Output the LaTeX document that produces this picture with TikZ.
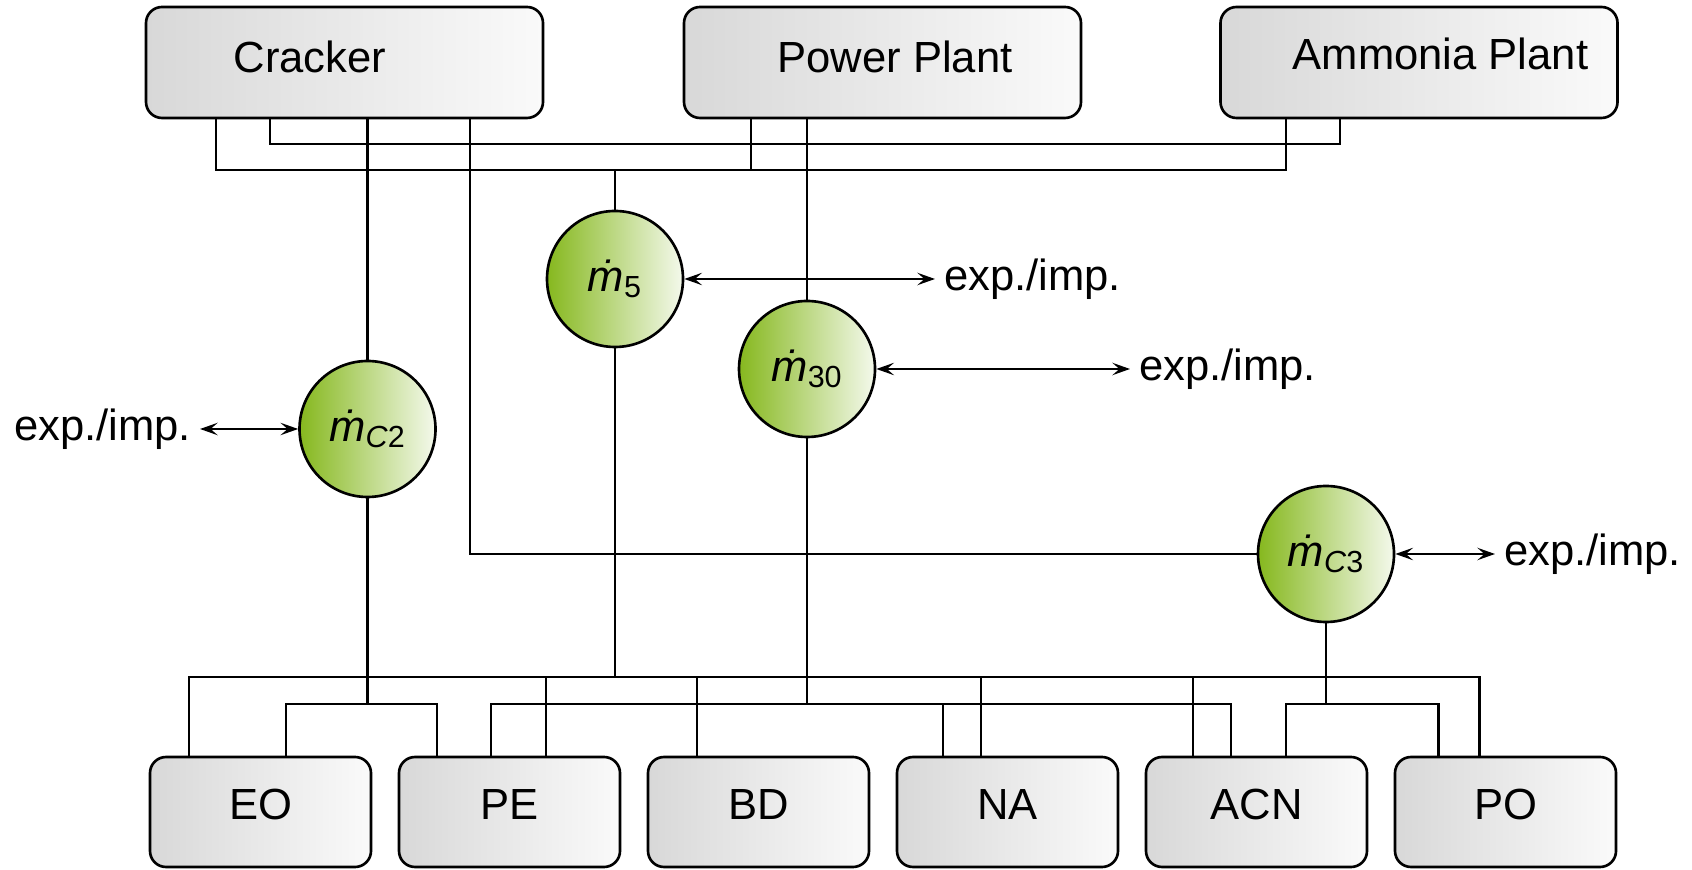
\documentclass[tikz,border=0pt]{standalone}
\usepackage{fontspec}
\setmainfont{Liberation Sans}
\usetikzlibrary{arrows.meta,positioning}

\definecolor{boxgrey}{RGB}{216,216,216}
\definecolor{boxwhite}{RGB}{250,250,250}
\definecolor{flowgreen}{RGB}{134,184,30}
\definecolor{flowpale}{RGB}{244,249,236}

\newcommand\mflow{\textit{\.{m}}}

\tikzset{
  plant/.style={draw, line width=1.5pt, rounded corners=0.32cm, left color=boxgrey, right color=boxwhite,
    minimum width=7.94cm, minimum height=2.22cm},
  prod/.style={plant, minimum width=4.42cm, minimum height=2.2cm, text depth=9pt},
  flow/.style={draw, circle, line width=1.5pt, left color=flowgreen, right color=flowpale,
    minimum size=2.72cm, inner sep=0pt},
  pipe/.style={line width=1.3pt},
  trade/.style={line width=1.5pt, <->},
  ext/.style={inner sep=5pt},
}

\begin{document}
\begin{tikzpicture}[font=\fontsize{24.8}{30}\selectfont,
    >={Stealth[length=10pt,width=7pt,inset=4pt,fill=gray!40]}]
    \useasboundingbox (0,0) rectangle (33.84,17.38);

    % plants
    \node[plant] (crk) at (6.89,16.13) {};
    \node (crk-t) at (6.2,16.24) {Cracker};
    \node[plant] (pp) at (17.65,16.13) {};
    \node (pp-t) at (17.9,16.24) {Power Plant};
    \node[plant] (amp) at (28.38,16.13) {};
    \node (amp-t) at (28.81,16.3) {Ammonia Plant};

    % products
    \node[prod] (eo) at (5.21,1.14) {EO};
    \node[prod] (pe) at (10.19,1.14) {PE};
    \node[prod] (bd) at (15.17,1.14) {BD};
    \node[prod] (na) at (20.15,1.14) {NA};
    \node[prod] (acn) at (25.13,1.14) {ACN};
    \node[prod] (po) at (30.11,1.14) {PO};

    % flows
    \node[flow] (m5) at (12.3,11.8) {\mflow\textsubscript{5}};
    \node[flow] (m30) at (16.14,10.0) {\mflow\textsubscript{30}};
    \node[flow] (mc2) at (7.35,8.8) {\mflow\textsubscript{\textit{C}2}};
    \node[flow] (mc3) at (26.52,6.3) {\mflow\textsubscript{\textit{C}3}};

    \coordinate (feed) at (12.3,13.98);
    \coordinate (busA) at (0,3.84);
    \coordinate (busB) at (0,3.30);

    % upper lines
    \draw[pipe] ([xshift=1.43cm]crk.south west) |- ([xshift=1.33cm]amp.south west |- feed) -- ([xshift=1.33cm]amp.south west);
    \draw[pipe] ([xshift=2.51cm]crk.south west) -- ++(0,-0.5) -| ([xshift=2.41cm]amp.south west);
    \draw[pipe] ([xshift=1.36cm]pp.south west) -- ([xshift=1.36cm]pp.south west |- feed);
    \draw[pipe] (feed) -- (m5.north);
    \draw[pipe] (crk.south -| mc2.north) -- (mc2.north);
    \draw[pipe] (pp.south -| m30.north) -- (m30.north);
    \draw[pipe] ([xshift=6.5cm]crk.south west) |- (mc3.west);

    % export / import
    \node[ext, anchor=west] (x5) at (18.7,11.8) {exp./imp.};
    \node[ext, anchor=west] (x30) at (22.6,10.0) {exp./imp.};
    \node[ext, anchor=east] (xc2) at (4.0,8.8) {exp./imp.};
    \node[ext, anchor=west] (xc3) at (29.9,6.3) {exp./imp.};
    \draw[trade] (m5.east) -- (x5.west);
    \draw[trade] (m30.east) -- (x30.west);
    \draw[trade] (xc2.east) -- (mc2.west);
    \draw[trade] (mc3.east) -- (xc3.west);

    % lower lines
    \draw[pipe] (m5.south) -- (m5.south |- busA);
    \draw[pipe] ([xshift=-1.43cm]eo.north) |- ([xshift=-0.52cm]po.north |- busA) -- ([xshift=-0.52cm]po.north);
    \foreach \n/\dx in {pe/0.73, bd/-1.23, na/-0.53, acn/-1.27}
        \draw[pipe] ([xshift=\dx cm]\n.north) -- ([xshift=\dx cm]\n.north |- busA);

    \draw[pipe] (mc2.south) -- (mc2.south |- busB);
    \draw[pipe] ([xshift=0.51cm]eo.north) |- ([xshift=-1.45cm]pe.north |- busB) -- ([xshift=-1.45cm]pe.north);

    \draw[pipe] (m30.south) -- (m30.south |- busB);
    \draw[pipe] ([xshift=-0.37cm]pe.north) |- ([xshift=-0.51cm]acn.north |- busB) -- ([xshift=-0.51cm]acn.north);
    \draw[pipe] ([xshift=-1.29cm]na.north) -- ([xshift=-1.29cm]na.north |- busB);

    \draw[pipe] (mc3.south) -- (mc3.south |- busB);
    \draw[pipe] ([xshift=0.59cm]acn.north) |- ([xshift=-1.34cm]po.north |- busB) -- ([xshift=-1.34cm]po.north);
\end{tikzpicture}
\end{document}
